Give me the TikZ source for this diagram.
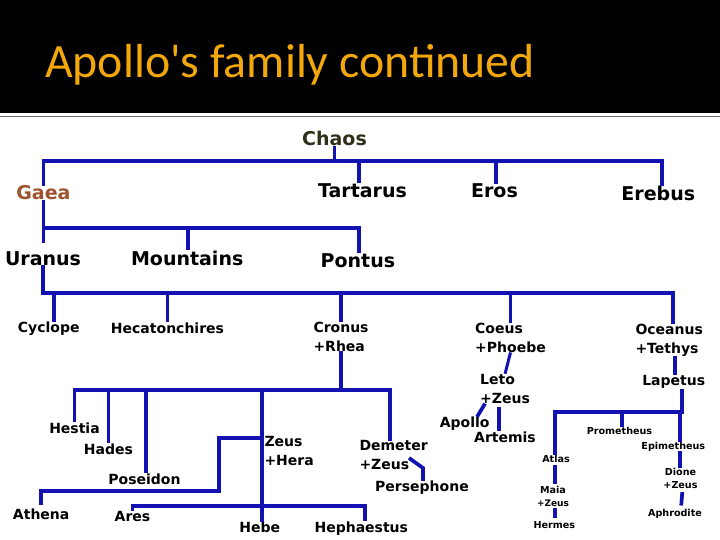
\documentclass[tikz,border=0pt]{standalone}
\usepackage{fontspec}
\setmainfont{DejaVu Sans}
\newfontfamily\titlefont{Carlito}
\definecolor{busblue}{RGB}{18,18,178}
\definecolor{titleorange}{RGB}{242,168,10}
\definecolor{chaoscol}{RGB}{48,48,24}
\definecolor{gaeacol}{RGB}{158,82,48}
\definecolor{rulegray}{RGB}{110,110,110}
\begin{document}
\begin{tikzpicture}[x=1pt,y=-1pt,
  bus/.style={draw=busblue, line width=3.7pt, line join=miter},
  big/.style={font=\bfseries\fontsize{19}{23}\selectfont, inner sep=0pt, anchor=base},
  mid/.style={font=\bfseries\fontsize{14}{19}\selectfont, inner sep=0pt, anchor=base},
  midml/.style={font=\bfseries\fontsize{14}{19}\selectfont, inner sep=0pt, align=left, anchor=north west},
  sml/.style={font=\bfseries\fontsize{9.6}{13.3}\selectfont, inner sep=0pt, anchor=base},
  smlml/.style={font=\bfseries\fontsize{9.6}{13.3}\selectfont, inner sep=0pt, align=center, anchor=north}]
\useasboundingbox (0,0) rectangle (720,540);
\fill[white] (0,0) rectangle (720,540);
\fill[black] (0,0) rectangle (720,113);
\draw[rulegray, line width=1.5pt] (0,116.5) -- (720,116.5);
\node[anchor=base west, inner sep=0pt, text=titleorange, font=\titlefont\fontsize{47.8}{52}\selectfont] (title) at (45,77.5) {Apollo's family continued};

% big labels
\node[big, text=chaoscol] (Chaos) at (334.5,146) {Chaos};
\node[big, text=gaeacol] (Gaea) at (43.4,200) {Gaea};
\node[big] (Tartarus) at (362.5,197) {Tartarus};
\node[big] (Eros) at (494.5,198) {Eros};
\node[big] (Erebus) at (658.3,201) {Erebus};
\node[big] (Uranus) at (43,265) {Uranus};
\node[big] (Mountains) at (187.2,265) {Mountains};
\node[big] (Pontus) at (357.9,267) {Pontus};

% middle labels
\node[mid] (Cyclope) at (48.7,332.7) {Cyclope};
\node[mid] (Hecatonchires) at (167.5,333) {Hecatonchires};
\node[midml] (Cronus) at (313.3,321.5) {Cronus\\+Rhea};
\node[midml] (Coeus) at (475,322.5) {Coeus\\+Phoebe};
\node[midml] (Oceanus) at (635.3,323.5) {Oceanus\\+Tethys};
\node[midml] (Leto) at (480,373.8) {Leto\\+Zeus};
\node[mid] (Lapetus) at (673.7,385.7) {Lapetus};
\node[mid] (Apollo) at (464.7,427.7) {Apollo};
\node[mid] (Artemis) at (505,442.3) {Artemis};
\node[mid] (Hestia) at (74.5,433) {Hestia};
\node[mid] (Hades) at (108.5,454) {Hades};
\node[mid] (Poseidon) at (144.5,484) {Poseidon};
\node[midml] (Zeus) at (264.3,436.5) {Zeus\\+Hera};
\node[midml] (Demeter) at (359.3,440.5) {Demeter\\+Zeus};
\node[mid] (Persephone) at (422,491.7) {Persephone};
\node[mid] (Athena) at (41.2,519) {Athena};
\node[mid] (Ares) at (132.5,521) {Ares};
\node[mid] (Hebe) at (259.7,532.7) {Hebe};
\node[mid] (Hephaestus) at (361.3,532) {Hephaestus};

% small labels
\node[sml] (Prometheus) at (619.5,434) {Prometheus};
\node[sml] (Epimetheus) at (673.3,449) {Epimetheus};
\node[sml] (Atlas) at (556,462.7) {Atlas};
\node[smlml] (Maia) at (553,485.7) {Maia\\{\fontsize{9}{13.3}\selectfont +Zeus}};
\node[sml] (Hermes) at (554.3,528.3) {Hermes};
\node[smlml] (Dione) at (680.5,468) {Dione\\+Zeus};
\node[sml] (Aphrodite) at (675,516) {Aphrodite};

% bus levels
\coordinate (busA) at (0,161);
\coordinate (busB) at (0,228);
\coordinate (busC) at (0,293);
\coordinate (busD) at (0,390);
\coordinate (busE) at (0,412);
\coordinate (busF) at (0,506);

% anchor points adjusted to the drawn lines
\coordinate (erebusT) at ([xshift=3.7pt]Erebus.north);
\coordinate (tartT) at ([xshift=-3.5pt]Tartarus.north);
\coordinate (erosT) at ([xshift=1.5pt]Eros.north);
\coordinate (pontusT) at ([xshift=1pt]Pontus.north);
\coordinate (mountT) at ([xshift=0.8pt]Mountains.north);
\coordinate (cycT) at ([xshift=5.3pt]Cyclope.north);
\coordinate (oceT) at ([xshift=4pt]Oceanus.north);
\coordinate (demT) at ([xshift=-3.4pt]Demeter.north);
\coordinate (hebeT) at ([xshift=2.3pt]Hebe.north);
\coordinate (posT) at ([xshift=1.5pt]Poseidon.north);
\coordinate (hephT) at ([xshift=3.7pt]Hephaestus.north);
\coordinate (perT) at ([xshift=1pt]Persephone.north);
\coordinate (artT) at ([xshift=-6pt]Artemis.north);
\coordinate (lapT) at ([xshift=1.3pt]Lapetus.north);
\coordinate (lapB) at ([xshift=8.3pt]Lapetus.south);
\coordinate (atlT) at ([xshift=-1pt]Atlas.north);
\coordinate (proT) at ([xshift=2.5pt]Prometheus.north);
\coordinate (epiT) at ([xshift=6.7pt]Epimetheus.north);
\coordinate (epiB) at ([xshift=6.7pt]Epimetheus.south);
\coordinate (zeusJ) at (262,438);
\coordinate (athJ) at (219,491);
\coordinate (perJ) at (409,458);

% Chaos generation
\draw[bus] (Chaos.south) -- (Chaos.south |- busA);
\draw[bus] (Gaea.north) |- (erebusT |- busA) -- (erebusT);
\draw[bus] (tartT) -- (tartT |- busA);
\draw[bus] (erosT) -- (erosT |- busA);

% Gaea's children
\draw[bus, shorten >=8pt] (Gaea.south) -- (Gaea.south |- Uranus.north);
\draw[bus] (Gaea.south |- busB) -| (pontusT);
\draw[bus] (mountT) -- (mountT |- busB);

% Uranus's children
\draw[bus] (Uranus.south) |- (oceT |- busC) -- (oceT);
\draw[bus] (cycT) -- (cycT |- busC);
\draw[bus] (Hecatonchires.north) -- (Hecatonchires.north |- busC);
\draw[bus] (Cronus.north) -- (Cronus.north |- busC);
\draw[bus] (Coeus.north) -- (Coeus.north |- busC);

% Cronus's children
\draw[bus] (Cronus.south) -- (Cronus.south |- busD);
\draw[bus] (Hestia.north) |- (demT |- busD) -- (demT);
\draw[bus] (Hades.north) -- (Hades.north |- busD);
\draw[bus] (posT) -- (posT |- busD);
\draw[bus] (hebeT |- busD) -- (hebeT);
\draw[bus, shorten >=3pt] (zeusJ) -| (athJ) -| (Athena.north);
\draw[bus] (Ares.north) |- (hephT |- busF) -- (hephT);
\draw[bus] (perJ) -- ++(14,10) -- (perT);

% Coeus line
\draw[bus, line width=3pt] (Coeus.south) -- (Leto.north);
\draw[bus] ([xshift=-20pt]Leto.south) -- ([xshift=12.3pt]Apollo.north);
\draw[bus, shorten <=3pt] (artT |- Leto.south) -- (artT);

% Oceanus line
\draw[bus] (lapT |- Oceanus.south) -- (lapT);
\draw[bus] (lapB) -- (lapB |- busE) -| (atlT);
\draw[bus] (proT) -- (proT |- busE);
\draw[bus] (epiT) -- (epiT |- busE);
\draw[bus] (epiB) -- (epiB |- Dione.north);
\draw[bus, shorten <=3pt, shorten >=3pt] ([xshift=2pt]Dione.south) -- ([xshift=6pt]Aphrodite.north);
\draw[bus, shorten <=2pt, shorten >=2pt] (atlT |- Atlas.south) -- (atlT |- Maia.north);
\draw[bus, shorten <=1pt, shorten >=3pt] (atlT |- Maia.south) -- (atlT |- Hermes.north);
\end{tikzpicture}
\end{document}
